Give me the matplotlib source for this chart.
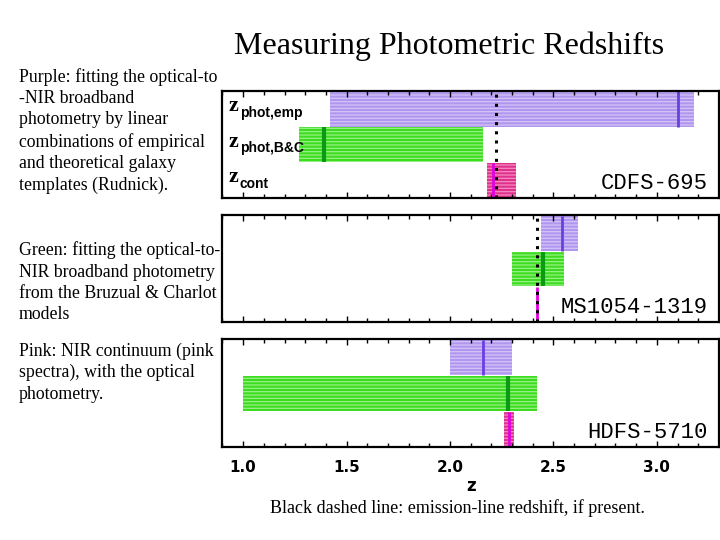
import numpy as np
import matplotlib
matplotlib.use("Agg")
import matplotlib.pyplot as plt
from matplotlib.ticker import MultipleLocator

# redshift ranges per object
objetos = ["CDFS-695", "MS1054-1319", "HDFS-5710"]

emp_lo = [1.42, 2.44, 2.00]
emp_hi = [3.18, 2.62, 2.30]
emp_z = [3.10, 2.54, 2.16]

bc_lo = [1.27, 2.30, 1.00]
bc_hi = [2.16, 2.55, 2.42]
bc_z = [1.39, 2.45, 2.28]

cont_lo = [2.18, 2.42, 2.26]
cont_hi = [2.32, 2.42, 2.31]
cont_z = [2.21, 2.42, 2.285]

em_z = [2.22, 2.42, np.nan]  # emission-line redshift (if present)

subindices = ["phot,emp", "phot,B&C", "cont"]
xticks = [1.0, 1.5, 2.0, 2.5, 3.0]

# colores: fondo, rayas, marca
estilos = [
    ("#b096ee", "#d4c3f7", "#6a3fe0", 2.0),
    ("#3cdc1e", "#98f088", "#0a9a14", 3.0),
    ("#e0308c", "#f28cc0", "#e000e0", 2.0),
]

plt.rcParams["hatch.linewidth"] = 0.9

fig = plt.figure(figsize=(7.2, 5.4), dpi=100)

fig.text(0.624, 0.9, "Measuring Photometric Redshifts", ha="center", va="baseline",
         fontsize=23, family="Liberation Serif")

txt_kw = dict(fontsize=12.8, family="Liberation Serif", va="top", ha="left", linespacing=1.33)
fig.text(0.026, 0.874, "Purple: fitting the optical-to\n-NIR broadband\nphotometry by linear\n"
         "combinations of empirical\nand theoretical galaxy\ntemplates (Rudnick).", **txt_kw)
fig.text(0.026, 0.553, "Green: fitting the optical-to-\nNIR broadband photometry\n"
         "from the Bruzual & Charlot\nmodels", **txt_kw)
fig.text(0.026, 0.366, "Pink: NIR continuum (pink\nspectra), with the optical\nphotometry.", **txt_kw)

fig.text(0.636, 0.05, "Black dashed line: emission-line redshift, if present.", ha="center",
         va="baseline", fontsize=13, family="Liberation Serif")

rects = [[0.309, 0.6333, 0.6895, 0.1987],
         [0.309, 0.4037, 0.6895, 0.198],
         [0.309, 0.1722, 0.6895, 0.2]]

for i, nombre in enumerate(objetos):
    ax = fig.add_axes(rects[i])
    datos = [(emp_lo[i], emp_hi[i], emp_z[i]),
             (bc_lo[i], bc_hi[i], bc_z[i]),
             (cont_lo[i], cont_hi[i], cont_z[i])]
    for j, (lo, hi, zc) in enumerate(datos):
        y = 2 - j
        fondo, raya, marca, lw = estilos[j]
        if hi > lo:
            ax.barh(y, hi - lo, left=lo, height=0.98, color=fondo, edgecolor=raya,
                    hatch="-----", linewidth=0)
        ax.plot([zc, zc], [y - 0.49, y + 0.49], color=marca, lw=lw, solid_capstyle="butt")
    if not np.isnan(em_z[i]):
        ax.axvline(em_z[i], color="black", lw=2.2, linestyle=(0, (1, 2.0)))

    ax.set_xlim(0.9, 3.3)
    ax.set_ylim(-0.5, 2.52)
    ax.set_yticks([])
    ax.xaxis.set_major_locator(MultipleLocator(0.5))
    ax.xaxis.set_minor_locator(MultipleLocator(0.1))
    ax.tick_params(axis="x", which="both", direction="in", top=True, bottom=True, width=1)
    ax.tick_params(axis="x", which="major", length=4, pad=9)
    ax.tick_params(axis="x", which="minor", length=3)
    for s in ax.spines.values():
        s.set_linewidth(1.6)

    ax.text(0.977, 0.085, nombre, transform=ax.transAxes, ha="right", va="baseline",
            fontsize=16, family="Liberation Mono")

    if i == 0:
        for j, sub in enumerate(subindices):
            yy = 2 - j - 0.06
            ax.annotate("z", (0.012, yy), xycoords=("axes fraction", "data"), ha="left",
                        va="baseline", fontsize=16, fontweight="bold", family="Liberation Serif")
            ax.annotate(sub, (0.012, yy), xycoords=("axes fraction", "data"),
                        xytext=(8, -4), textcoords="offset points", ha="left", va="baseline",
                        fontsize=10, fontweight="bold", family="Liberation Sans")

    if i < 2:
        ax.set_xticklabels([])
    else:
        ax.set_xticks(xticks)
        ax.set_xticklabels([f"{t:.1f}" for t in xticks], fontsize=11, fontweight="bold")
        ax.set_xlabel("z", fontsize=12, fontweight="bold", labelpad=2)

plt.savefig("out.png", dpi=100)
